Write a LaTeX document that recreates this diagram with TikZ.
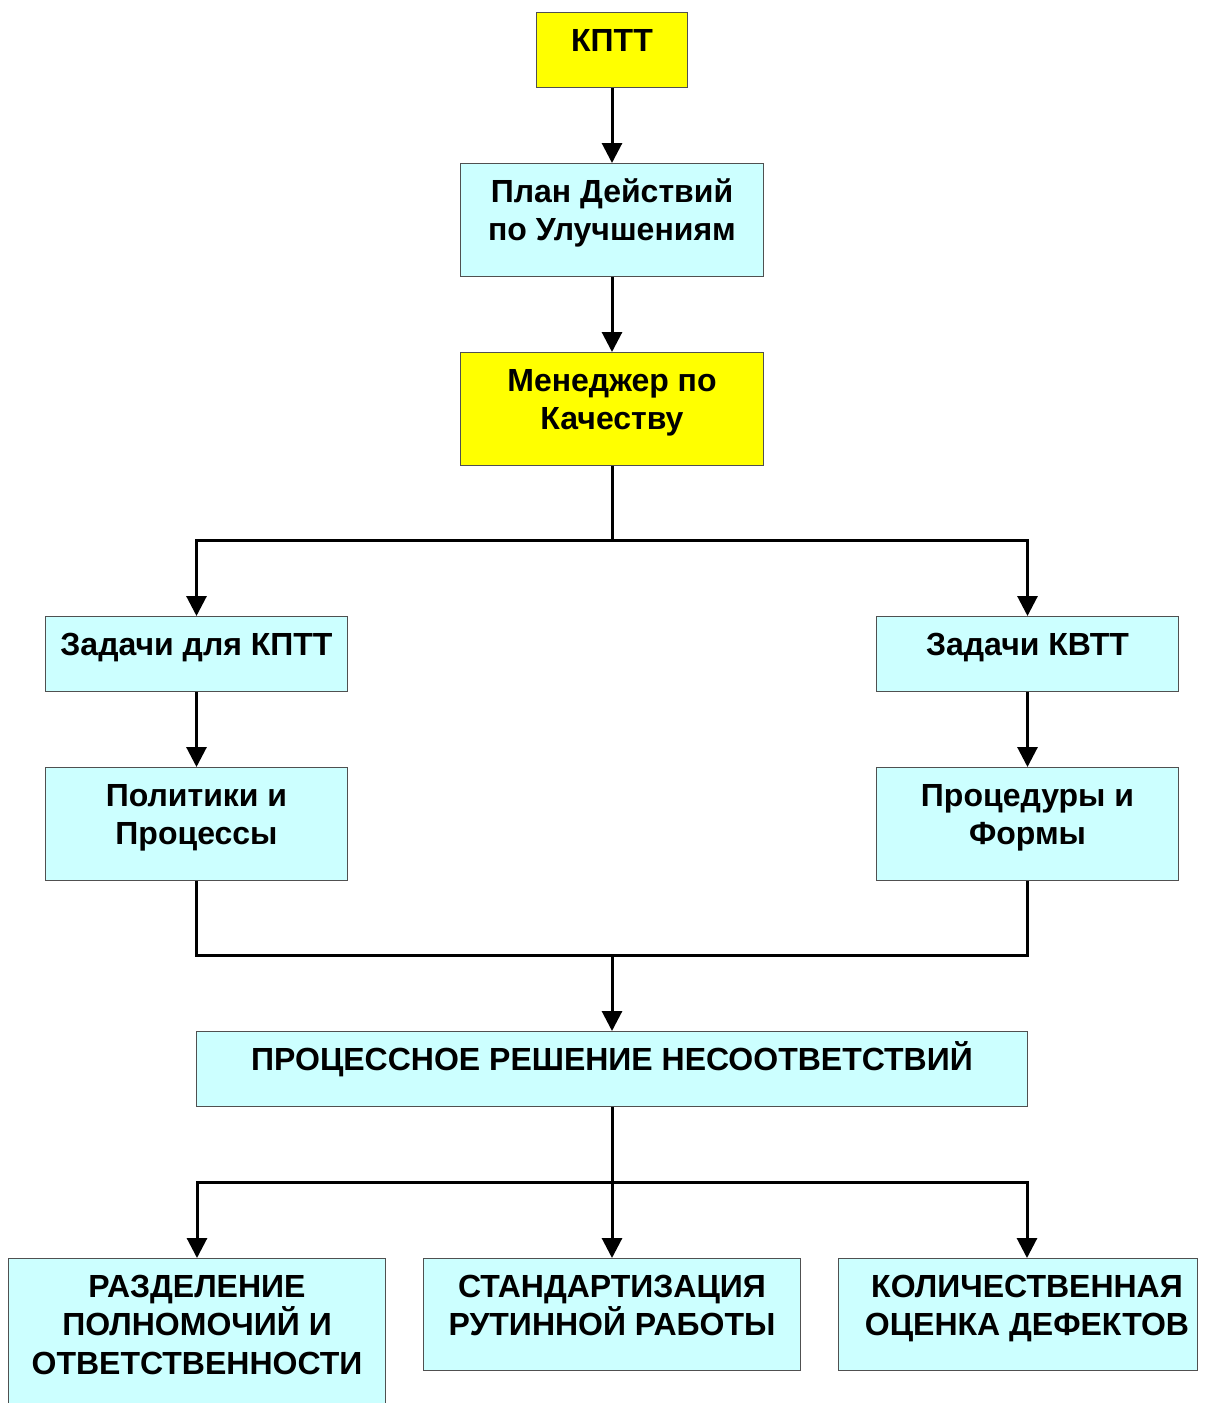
\documentclass[tikz,border=0pt]{standalone}
\usepackage{fontspec}
\setmainfont{Liberation Sans}
\usetikzlibrary{arrows.meta,positioning}

\definecolor{boxcyan}{HTML}{CCFFFF}
\definecolor{boxyellow}{HTML}{FFFF00}
\definecolor{boxedge}{HTML}{505050}

\tikzset{
  frame/.style={draw=boxedge, line width=1pt, inner sep=0pt, anchor=north west},
  cyanbox/.style={frame, fill=boxcyan},
  yellowbox/.style={frame, fill=boxyellow},
  caption/.style={anchor=north, inner sep=0pt, align=center,
    font=\fontsize{32}{38.5}\selectfont\bfseries},
  link/.style={line width=3pt},
  arrowlink/.style={link, -{Triangle[width=20pt,length=20pt]}}
}

% strut that fixes the height of the first text line
\newcommand{\toprule}{\rule{0pt}{32pt}}

% box of given width and height, top-left corner at the given point
\newcommand{\flowbox}[6]{%
  \node[#1, minimum width=#4pt, minimum height=#5pt] (#2) at (#3) {};
  \node[caption] (#2-t) at ([yshift=-7pt]#2.north) {\toprule#6};
}

\begin{document}
\begin{tikzpicture}[x=1pt, y=-1pt]
  \useasboundingbox (0,0) rectangle (1206,1403);

  % boxes
  \flowbox{yellowbox}{kptt}{536,12}{151}{75}{КПТТ}
  \flowbox{cyanbox}{plan}{460,163}{303}{113}{План Действий\\по Улучшениям}
  \flowbox{yellowbox}{mgr}{460,352}{303}{113}{Менеджер по\\Качеству}
  \flowbox{cyanbox}{zk}{45,616}{302}{75}{Задачи для КПТТ}
  \flowbox{cyanbox}{zv}{876,616}{302}{75}{Задачи КВТТ}
  \flowbox{cyanbox}{pol}{45,767}{302}{113}{Политики и\\Процессы}
  \flowbox{cyanbox}{proc}{876,767}{302}{113}{Процедуры и\\Формы}
  \flowbox{cyanbox}{pr}{196,1031}{831}{75}{ПРОЦЕССНОЕ РЕШЕНИЕ НЕСООТВЕТСТВИЙ}
  \flowbox{cyanbox}{b1}{8,1258}{377}{155}{РАЗДЕЛЕНИЕ\\ПОЛНОМОЧИЙ И\\ОТВЕТСТВЕННОСТИ}
  \flowbox{cyanbox}{b2}{423,1258}{377}{112}{СТАНДАРТИЗАЦИЯ\\РУТИННОЙ РАБОТЫ}
  \node[cyanbox, minimum width=359pt, minimum height=112pt] (b3) at (838,1258) {};
  \coordinate (b3in) at (1027,1258);
  \node[caption] (b3-t) at ([yshift=-7pt]b3in) {\toprule КОЛИЧЕСТВЕННАЯ\\ОЦЕНКА ДЕФЕКТОВ};

  % junction points
  \coordinate (j1) at (612,540);
  \coordinate (j2) at (612,955);
  \coordinate (j3) at (612,1182);

  % connectors
  \draw[arrowlink] (kptt.south) -- (plan.north);
  \draw[arrowlink] (plan.south) -- (mgr.north);
  \draw[link] (mgr.south) -- (j1);
  \draw[arrowlink] (j1) -| (zk.north);
  \draw[arrowlink] (j1) -| (zv.north);
  \draw[arrowlink] (zk.south) -- (pol.north);
  \draw[arrowlink] (zv.south) -- (proc.north);
  \draw[link] (pol.south) |- (j2);
  \draw[link] (proc.south) |- (j2);
  \draw[arrowlink] (j2) -- (pr.north);
  \draw[link] (pr.south) -- (j3);
  \draw[arrowlink] (j3) -| (b1.north);
  \draw[arrowlink] (j3) -- (b2.north);
  \draw[arrowlink] (j3) -| (b3in);
\end{tikzpicture}
\end{document}
